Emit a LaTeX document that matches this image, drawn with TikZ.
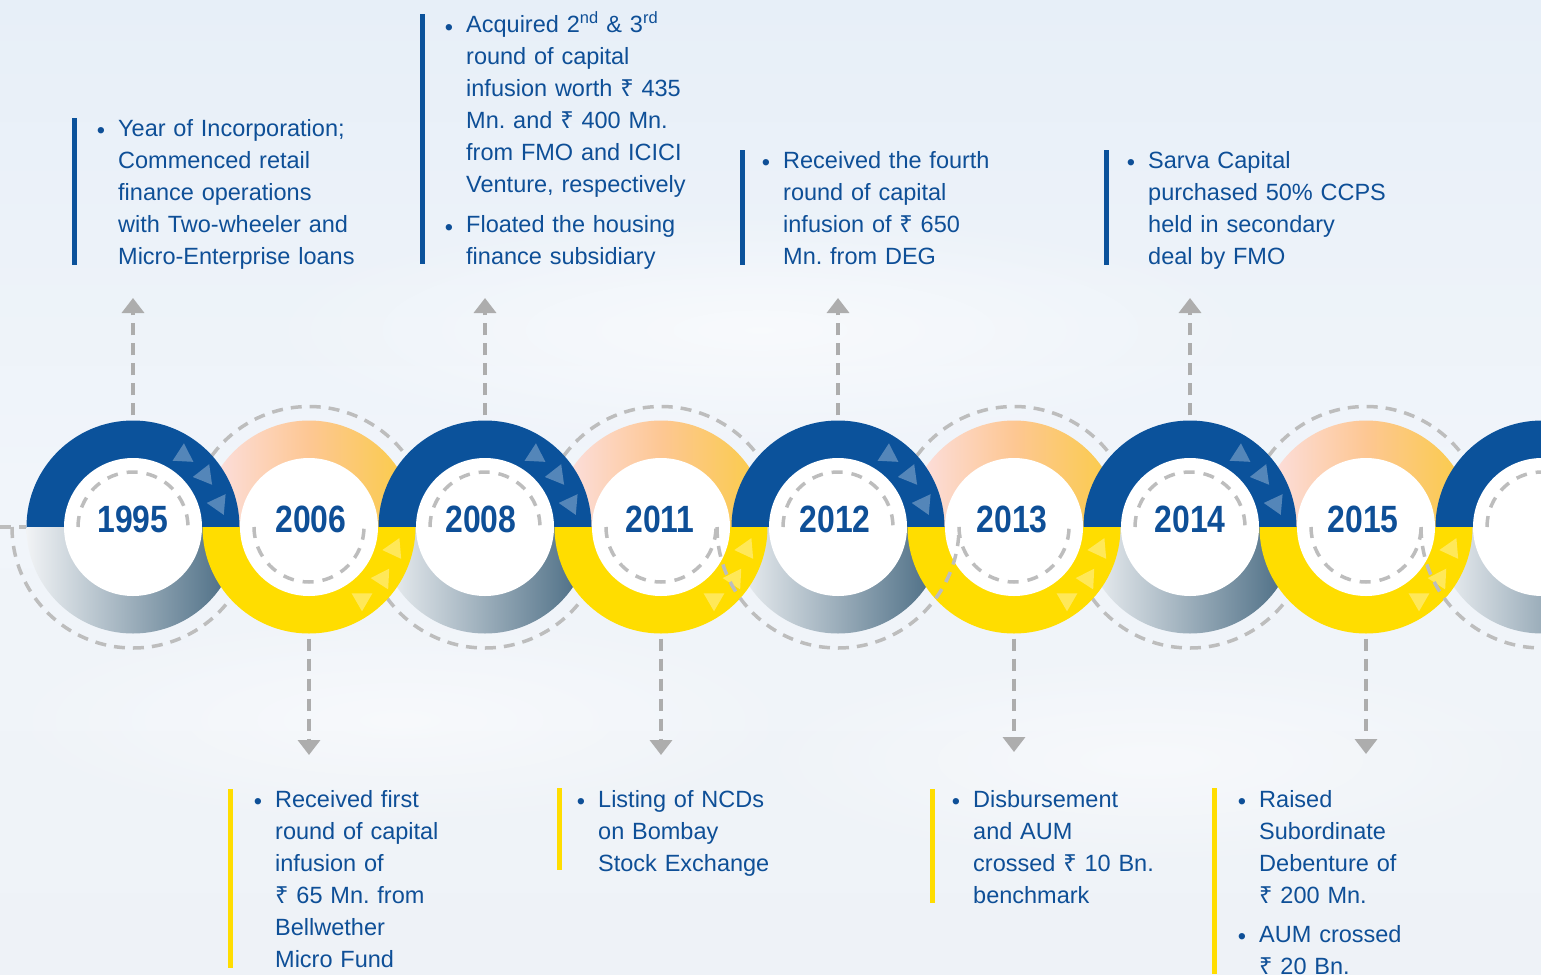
\documentclass[tikz,border=0pt]{standalone}
\usepackage{fontspec}
\usepackage{graphicx}
\setmainfont{Liberation Sans}
\newfontfamily\rupfont{Noto Sans}
\usetikzlibrary{arrows.meta,calc,fadings}
\tikzfading[name=softblob, inner color=transparent!0, outer color=transparent!100]
\definecolor{mblue}{HTML}{0B529B}
\definecolor{tblue}{HTML}{0E4F97}
\definecolor{myel}{HTML}{FFDD00}
\definecolor{dgray}{HTML}{BDBDBD}
\definecolor{agray}{HTML}{ADADAD}
\definecolor{gl}{HTML}{F1F3F5}
\definecolor{gd}{HTML}{44677F}
\definecolor{pk}{HTML}{FCE1E6}
\definecolor{pe}{HTML}{FDC793}
\definecolor{oy}{HTML}{FACC42}
\definecolor{bgt}{HTML}{E7EFF8}
\definecolor{bgm}{HTML}{F1F5FA}
\definecolor{bgb}{HTML}{EEF2F7}
\frenchspacing
\newcommand\rs{{\rupfont ₹}}
\newcommand\bul{\leavevmode\llap{\raisebox{-2.5pt}{\textbullet}\hspace{13pt}}}
\newcommand\tri[4]{\fill[white, opacity=#4, shift={(#1,#2)}, rotate=#3] (0:12pt) -- (120:12pt) -- (240:12pt) -- cycle;}
\tikzset{
  ring/.style={circle, minimum size=213pt, inner sep=0pt},
  yr/.style={inner sep=0pt, text=tblue, font=\fontsize{38}{38}\selectfont\bfseries},
  txt/.style={anchor=base west, inner sep=0pt, text width=#1, align=left, text=tblue, font=\fontsize{23.5}{32}\selectfont},
  dline/.style={draw=dgray, line width=3.5pt, dash pattern=on 11pt off 8pt},
  iline/.style={draw=dgray, line width=3.5pt, dash pattern=on 11pt off 9pt},
  conn/.style={draw=agray, line width=3.5pt, dash pattern=on 12pt off 8pt, -{Triangle[width=22pt,length=15pt]}},
}
\begin{document}
\begin{tikzpicture}[x=1pt, y=-1pt]
\useasboundingbox (0,0) rectangle (1541,974);
% background
\fill[top color=bgt, bottom color=bgb, middle color=bgm] (0,0) rectangle (1541,974);
\fill[white, opacity=0.6, path fading=softblob] (760,330) ellipse [x radius=520pt, y radius=120pt];
\fill[white, opacity=0.5, path fading=softblob] (400,720) ellipse [x radius=420pt, y radius=110pt];
\fill[white, opacity=0.5, path fading=softblob] (1150,760) ellipse [x radius=420pt, y radius=110pt];
% circle nodes
\node[ring] (c1995) at (133,527) {};
\node[ring] (c2006) at (309,527) {};
\node[ring] (c2008) at (485,527) {};
\node[ring] (c2011) at (661,527) {};
\node[ring] (c2012) at (838,527) {};
\node[ring] (c2013) at (1014,527) {};
\node[ring] (c2014) at (1190,527) {};
\node[ring] (c2015) at (1366,527) {};
\node[ring] (cnext) at (1542,527) {};
% outer dashed arcs (behind)
\draw[dline] (0,527) -- (c1995.west);
\foreach \x in {133,485,1190}
  \draw[dline] (\x-121,527) arc[start angle=180, end angle=360, radius=121pt];
\foreach \x in {309,661,1014,1366}
  \draw[dline] (\x-120.5,527) arc[start angle=180, end angle=0, radius=120.5pt];
% yellow upper halves
\foreach \x in {309,661,1014,1366}{
  \begin{scope}
    \clip (\x-110,415) rectangle (\x+110,527);
    \shade[left color=pk, right color=oy, middle color=pe] (\x,527) circle[radius=106.5pt];
  \end{scope}}
% blue upper halves
\foreach \x in {133,485,838,1190,1542}{
  \begin{scope}
    \clip (\x-110,415) rectangle (\x+110,527);
    \fill[mblue] (\x,527) circle[radius=106.5pt];
  \end{scope}}
% blue lower halves
\foreach \x in {133,485,838,1190,1542}{
  \begin{scope}
    \clip (\x-110,527) rectangle (\x+110,640);
    \shade[left color=gl, right color=gd] (\x,527) circle[radius=106.5pt];
  \end{scope}}
% yellow lower halves
\foreach \x in {309,661,1014,1366}{
  \begin{scope}
    \clip (\x-110,527) rectangle (\x+110,640);
    \fill[myel] (\x,527) circle[radius=106.5pt];
  \end{scope}}
% triangles
\foreach \x in {133,485,838,1190}{
  \tri{\x+50.3}{455.3}{87}{0.3}
  \tri{\x+71.7}{475.3}{188}{0.3}
  \tri{\x+85.7}{504}{175}{0.3}}
\foreach \x in {309,661,1014,1366}{
  \tri{\x+85.3}{549}{185}{0.35}
  \tri{\x+73.7}{578.7}{177}{0.35}
  \tri{\x+53}{599.3}{270}{0.35}}
% white inner discs
\foreach \x in {133,309,485,661,838,1014,1190,1366,1542}
  \fill[white] (\x,527) circle[radius=69pt];
% inner dashed arcs
\foreach \x in {133,485,838,1190,1542}
  \draw[iline] (\x-55,527) arc[start angle=180, end angle=0, radius=55pt];
\foreach \x in {309,661,1014,1366}
  \draw[iline] (\x-55,527) arc[start angle=180, end angle=360, radius=55pt];
% outer dashed arcs on top
\foreach \x in {838,1542}
  \draw[dline] (\x-121,527) arc[start angle=180, end angle=360, radius=121pt];
% years
\node[yr] (y1995) at (133,519.5) {\scalebox{0.84}[1]{1995}};
\node[yr] (y2006) at (311,519.5) {\scalebox{0.84}[1]{2006}};
\node[yr] (y2008) at (481,519.5) {\scalebox{0.84}[1]{2008}};
\node[yr] (y2011) at (660,519.5) {\scalebox{0.84}[1]{2011}};
\node[yr] (y2012) at (835,519.5) {\scalebox{0.84}[1]{2012}};
\node[yr] (y2013) at (1012,519.5) {\scalebox{0.84}[1]{2013}};
\node[yr] (y2014) at (1190,519.5) {\scalebox{0.84}[1]{2014}};
\node[yr] (y2015) at (1363,519.5) {\scalebox{0.84}[1]{2015}};
% connector end points
\coordinate (a1995) at (133,298);
\coordinate (a2008) at (485,298);
\coordinate (a2012) at (838,298);
\coordinate (a2014) at (1190,298);
\coordinate (a2006) at (309,755);
\coordinate (a2011) at (661,755);
\coordinate (a2013) at (1014,752);
\coordinate (a2015) at (1366,754);
\draw[conn, shorten <=5pt] (c1995.north) -- (a1995);
\draw[conn, shorten <=5pt] (c2008.north) -- (a2008);
\draw[conn, shorten <=5pt] (c2012.north) -- (a2012);
\draw[conn, shorten <=5pt] (c2014.north) -- (a2014);
\draw[conn, shorten <=5pt] (c2006.south) -- (a2006);
\draw[conn, shorten <=5pt] (c2011.south) -- (a2011);
\draw[conn, shorten <=5pt] (c2013.south) -- (a2013);
\draw[conn, shorten <=5pt] (c2015.south) -- (a2015);
% bars
\fill[mblue] (72,118) rectangle (77,265);
\fill[mblue] (420,14) rectangle (425,264);
\fill[mblue] (740,150) rectangle (745,265);
\fill[mblue] (1104,150) rectangle (1109,265);
\fill[myel] (228,789) rectangle (233,968);
\fill[myel] (557,788) rectangle (562,870);
\fill[myel] (930,789) rectangle (935,903);
\fill[myel] (1212,788) rectangle (1217,974);
% texts
\node[txt=300pt] (t1995) at (118,136) {\bul Year of Incorporation;\\Commenced retail\\finance operations\\with Two-wheeler and\\Micro-Enterprise loans};
\node[txt=280pt] (t2008) at (466,33) {\bul Acquired 2\textsuperscript{nd} \& 3\textsuperscript{rd}\\round of capital\\infusion worth \rs{} 435\\Mn. and \rs{} 400 Mn.\\from FMO and ICICI\\Venture, respectively\\[8pt]\bul Floated the housing\\finance subsidiary};
\node[txt=280pt] (t2012) at (783,168) {\bul Received the fourth\\round of capital\\infusion of \rs{} 650\\Mn. from DEG};
\node[txt=280pt] (t2014) at (1148,168) {\bul Sarva Capital\\purchased 50\% CCPS\\held in secondary\\deal by FMO};
\node[txt=280pt] (t2006) at (275,807) {\bul Received first\\round of capital\\infusion of\\\rs{} 65 Mn. from\\Bellwether\\Micro Fund};
\node[txt=280pt] (t2011) at (598,807) {\bul Listing of NCDs\\on Bombay\\Stock Exchange};
\node[txt=280pt] (t2013) at (973,807) {\bul Disbursement\\and AUM\\crossed \rs{} 10 Bn.\\benchmark};
\node[txt=270pt] (t2015) at (1259,807) {\bul Raised\\Subordinate\\Debenture of\\\rs{} 200 Mn.\\[7pt]\bul AUM crossed\\\rs{} 20 Bn.};
\end{tikzpicture}
\end{document}
